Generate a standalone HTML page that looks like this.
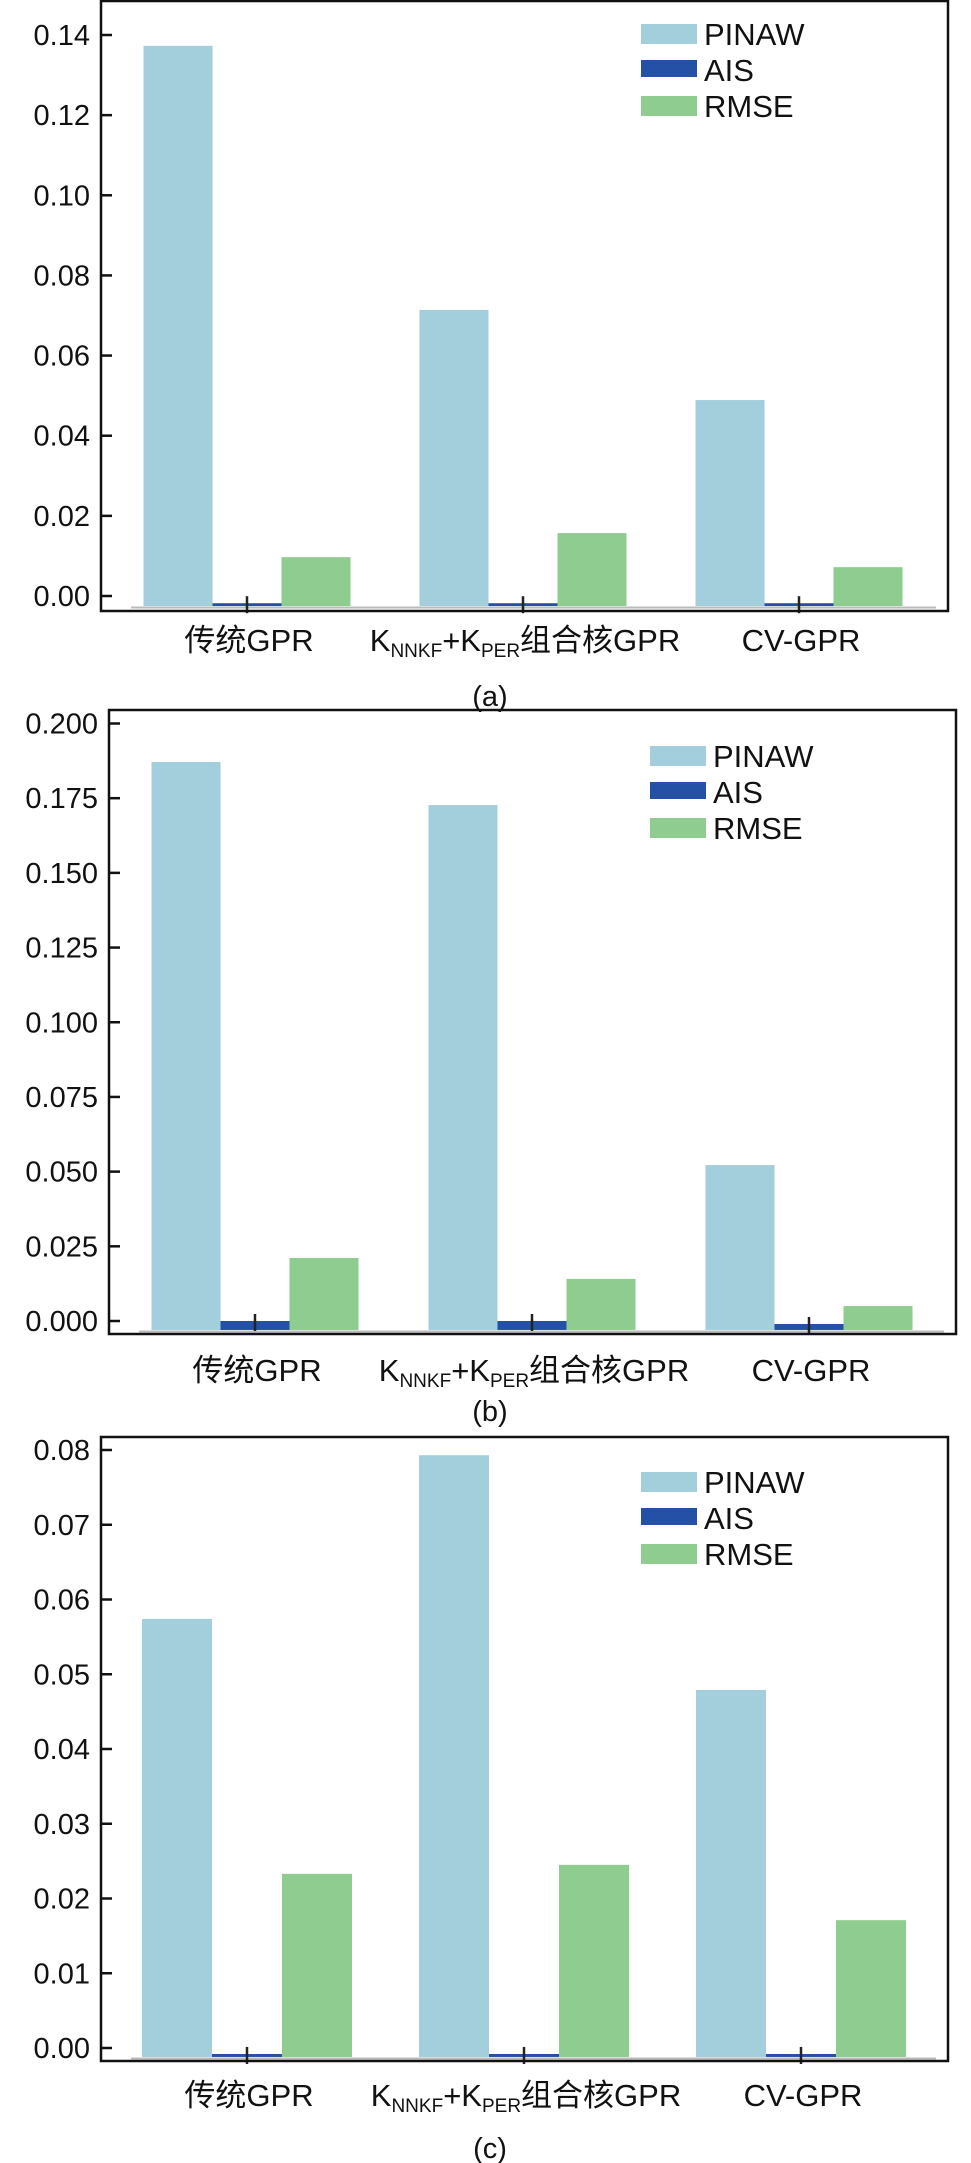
<!DOCTYPE html>
<html><head><meta charset="utf-8">
<style>
html,body{margin:0;padding:0;background:#fff;}
svg{display:block;font-family:"Liberation Sans","Noto Sans CJK SC",sans-serif;}
</style></head>
<body>
<svg id="root" width="971" height="2163" viewBox="0 0 971 2163" xmlns="http://www.w3.org/2000/svg"></svg>
<script>
// ---- data ----
const categories = ["传统GPR", "KNNKF+KPER组合核GPR", "CV-GPR"];
const seriesNames = ["PINAW", "AIS", "RMSE"];
const pinawA = [0.1373, 0.0714, 0.0489];
const aisA = [-0.0018, -0.0018, -0.0018];
const rmseA = [0.0097, 0.0157, 0.0072];
const ticksA = ["0.00","0.02","0.04","0.06","0.08","0.10","0.12","0.14"];
const pinawB = [0.1871, 0.1727, 0.0522];
const aisB = [0.0, 0.0, -0.001];
const rmseB = [0.0211, 0.0141, 0.0050];
const ticksB = ["0.000","0.025","0.050","0.075","0.100","0.125","0.150","0.175","0.200"];
const pinawC = [0.0574, 0.0793, 0.0479];
const aisC = [-0.0008, -0.0008, -0.0008];
const rmseC = [0.0233, 0.0245, 0.0171];
const ticksC = ["0.00","0.01","0.02","0.03","0.04","0.05","0.06","0.07","0.08"];

const NS = "http://www.w3.org/2000/svg";
const root = document.getElementById("root");
const colors = ["#a3cedc", "#2451a6", "#8fcc8f"];
function mk(tag, attrs, parent){const e=document.createElementNS(NS,tag);for(const k in attrs)e.setAttribute(k,attrs[k]);parent.appendChild(e);return e;}

function drawChart(id, L, series, ticks){
  const g = mk("g", {}, root);
  
  
  const t0 = parseFloat(ticks[0]), t1 = parseFloat(ticks[ticks.length-1]);
  const y = v => L.y0 + (v - t0) / (t1 - t0) * (L.yTop - L.y0);
  const x = (gi, si) => L.c0 + gi * L.gap + (si - 1) * L.bw;
  const bl = mk("line", {x1:L.left+30, x2:L.right-12, y1:y(L.base)+1.5, y2:y(L.base)+1.5, stroke:"#bbb","stroke-width":2}, g);
  
  
  for (let si = 0; si < 3; si++) {
    for (let gi = 0; gi < categories.length; gi++) {
      const v = series[si][gi];
      const ya = y(v), yb = y(L.base);
      const r = mk("rect", {x:x(gi,si)-L.bw/2, y:Math.min(ya,yb), width:L.bw, height:Math.max(Math.abs(yb-ya),2), fill:colors[si]}, g);
      
      
      if (si === 1) {
        const eb = mk("line", {x1:x(gi,si), x2:x(gi,si), y1:ya-7, y2:ya+10, stroke:"#222","stroke-width":2.5}, g);
        
        
      }
    }
  }
  const fr = mk("rect", {x:L.left, y:L.top, width:L.right-L.left, height:L.bottom-L.top, fill:"none", stroke:"#111","stroke-width":2.5}, g);
  
  
  ticks.forEach(tk => {
    const yy = y(parseFloat(tk));
    const tl = mk("line", {x1:L.left, x2:L.left+11, y1:yy, y2:yy, stroke:"#111","stroke-width":2.5}, g);
    
    
    const tt = mk("text", {x:L.left-11, y:yy+10, "text-anchor":"end","font-size":29, fill:"#111"}, g);
    tt.textContent = tk;
    
    
  });
  categories.forEach((c, gi) => {
    const tx = mk("text", {x:L.c0 + gi*L.gap + 2, y:L.labY, "text-anchor":"middle","font-size":31, fill:"#111"}, g);
    
    
    if (c.startsWith("KNNKF")) {
      const parts = [["K",31,0],["NNKF",19,6],["+K",31,-6],["PER",19,6],["组合核GPR",31,-6]];
      parts.forEach(p => { const s = mk("tspan", {"font-size":p[1], dy:p[2]}, tx); s.textContent = p[0]; });
    } else tx.textContent = c;
  });
  const lg = mk("g", {}, g);
  
  
  seriesNames.forEach((n, si) => {
    const yy = L.legY + si * 36;
    const sw = mk("rect", {x:L.legX, y:yy, width:56, height:si===1?17:20, fill:colors[si]}, lg);
    
    
    const lt = mk("text", {x:L.legX+63, y:yy+21, "font-size":31, fill:"#111"}, lg);
    lt.textContent = n;
    
    
  });
  const cap = mk("text", {x:490, y:L.capY, "text-anchor":"middle","font-size":29, fill:"#111"}, g);
  cap.textContent = "(" + id + ")";
  
  
}

drawChart("a", {left:101,right:948,top:1,bottom:611,y0:596,yTop:35,base:-0.0025,c0:247,gap:276,bw:69,labY:651,legX:641,legY:24,capY:706}, [pinawA,aisA,rmseA], ticksA);
drawChart("b", {left:109,right:956,top:710,bottom:1334,y0:1321,yTop:723.5,base:-0.003,c0:255,gap:277,bw:69,labY:1381,legX:650,legY:746,capY:1421}, [pinawB,aisB,rmseB], ticksB);
drawChart("c", {left:101,right:948,top:1437,bottom:2061,y0:2048,yTop:1450,base:-0.0012,c0:247,gap:277,bw:70,labY:2106,legX:641,legY:1472,capY:2158}, [pinawC,aisC,rmseC], ticksC);
</script>
</body></html>
